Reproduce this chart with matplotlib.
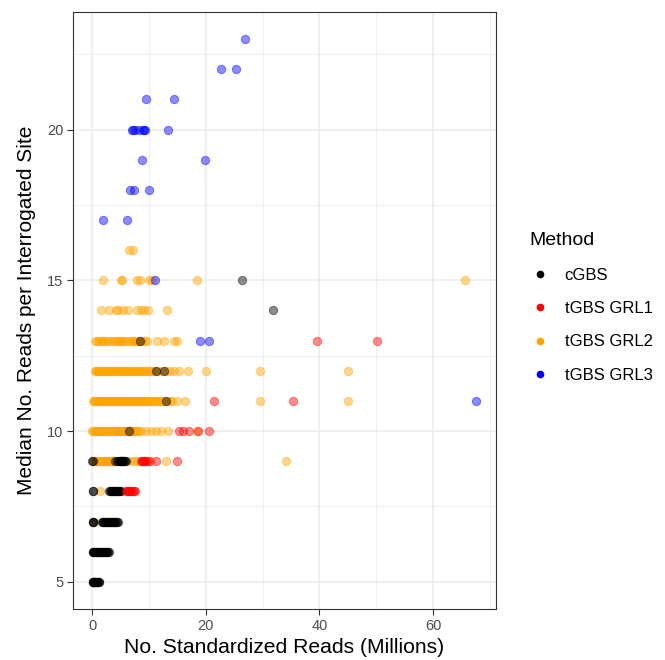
import matplotlib
matplotlib.use("Agg")
import matplotlib.pyplot as plt
from matplotlib.lines import Line2D
from matplotlib.ticker import MultipleLocator

plt.rcParams['font.family'] = ['Liberation Sans', 'DejaVu Sans']

methods = ['cGBS', 'tGBS GRL1', 'tGBS GRL2', 'tGBS GRL3']
colors = ['black', 'red', 'orange', 'blue']

# x values (millions of standardized reads) for each median reads-per-site value
cgbs = {
    5: [0.05, 0.1, 0.15, 0.2, 0.3, 0.35, 0.45, 0.5, 0.6, 0.7, 0.8, 0.9, 1.0, 1.1, 1.2],
    6: [0.05, 0.1, 0.2, 0.3, 0.4, 0.5, 0.6, 0.75, 0.85, 1.0, 1.1, 1.25, 1.4, 1.5,
        1.65, 1.8, 1.9, 2.05, 2.2, 2.35, 2.5, 2.6, 2.75, 2.9],
    7: [0.05, 0.1, 0.15, 1.7, 1.8, 1.95, 2.1, 2.2, 2.35, 2.5, 2.6, 2.8, 2.9, 3.05,
        3.2, 3.3, 3.5, 3.6, 3.75, 3.9, 4.05, 4.2, 4.35, 4.5],
    8: [0.05, 0.1, 3.0, 3.1, 3.25, 3.4, 3.5, 3.65, 3.8, 3.9, 4.05, 4.2, 4.3, 4.45,
        4.6, 4.7, 4.85, 5.0],
    9: [0.0, 0.05, 4.0, 4.3, 4.6, 4.8, 4.9, 5.0, 5.1, 5.2, 5.3, 5.4, 5.5, 5.7, 6.0],
    10: [6.4],
    11: [12.9],
    12: [11.2, 12.7],
    13: [8.4],
    14: [31.8],
    15: [26.3],
}
grl1 = {
    8: [5.9, 6.1, 6.3, 6.5, 6.7, 6.9, 7.1, 7.3, 7.6],
    9: [8.5, 8.8, 9.0, 9.1, 9.3, 9.6, 10.2, 11.2, 14.9],
    10: [15.2, 16.0, 17.0, 18.7, 20.6],
    11: [21.5, 35.3],
    13: [39.5, 50.2],
}
grl2 = {
    7: [0.3],
    8: [1.3],
    9: [0.4, 0.6, 0.8, 1.0, 1.2, 1.4, 1.6, 1.8, 2.0, 2.2, 2.4, 2.6, 2.8, 3.0, 3.2,
        3.4, 3.6, 3.8, 6.8, 7.4, 7.9, 9.8, 12.9, 34.1],
    10: [0.0, 0.2, 0.4, 0.6, 0.8, 1.0, 1.2, 1.5, 1.7, 1.9, 2.1, 2.4, 2.6, 2.8, 3.0,
         3.3, 3.5, 3.7, 3.9, 4.2, 4.4, 4.6, 4.8, 5.1, 5.3, 5.5, 5.7, 6.0, 6.2, 6.4,
         6.6, 6.9, 7.1, 7.3, 7.6, 7.9, 8.2, 8.5, 9.5, 10.4, 11.2, 12.1, 13.3, 18.5],
    11: [0.1, 0.3, 0.5, 0.7, 0.9, 1.1, 1.3, 1.6, 1.8, 2.0, 2.3, 2.5, 2.7, 2.9, 3.2,
         3.4, 3.6, 3.8, 4.1, 4.3, 4.5, 4.8, 5.0, 5.2, 5.4, 5.7, 5.9, 6.1, 6.4, 6.6,
         6.8, 7.1, 7.3, 7.5, 7.8, 8.0, 8.2, 8.5, 8.7, 9.0, 9.2, 9.5, 9.7, 10.0, 10.3,
         10.6, 10.9, 11.2, 11.5, 11.8, 12.1, 12.4, 12.8, 13.6, 14.1, 15.0, 16.4,
         29.5, 45.0],
    12: [0.4, 0.6, 0.8, 1.0, 1.2, 1.4, 1.7, 1.9, 2.1, 2.3, 2.6, 2.8, 3.0, 3.2, 3.5,
         3.7, 3.9, 4.1, 4.4, 4.6, 4.8, 5.1, 5.3, 5.5, 5.8, 6.0, 6.2, 6.5, 6.7, 6.9,
         7.2, 7.4, 7.7, 7.9, 8.2, 8.4, 8.7, 9.0, 9.3, 9.6, 9.9, 10.3, 10.6, 11.0,
         11.5, 12.2, 12.9, 13.6, 14.4, 15.3, 16.8, 20.0, 29.5, 45.0],
    13: [0.5, 0.9, 1.2, 1.5, 1.8, 2.1, 2.5, 3.0, 3.4, 3.8, 4.2, 4.5, 4.7, 5.0, 5.3,
         5.6, 6.0, 6.4, 6.8, 7.1, 7.4, 7.7, 8.0, 8.3, 8.8, 9.2, 9.7, 11.4, 12.6,
         14.4, 14.9],
    14: [1.6, 2.9, 4.2, 4.6, 5.4, 6.2, 7.9, 8.5, 9.1, 9.8, 13.1],
    15: [1.9, 5.0, 5.2, 7.9, 8.4, 10.0, 10.5, 18.4, 65.7],
    16: [6.5, 7.1],
}
grl3 = {
    11: [67.6],
    13: [19.0, 20.6],
    15: [11.1],
    17: [1.9, 6.1],
    18: [6.6, 7.4, 10.0],
    19: [8.8, 19.8],
    20: [7.0, 7.2, 7.5, 8.3, 8.9, 9.1, 9.3, 13.3],
    21: [9.5, 14.3],
    22: [22.7, 25.3],
    23: [26.9],
}

fig = plt.figure(figsize=(6.65, 6.6), dpi=100)
ax = fig.add_axes([0.1098, 0.0773, 0.636, 0.9045])

for rows, col in zip([grl2, cgbs, grl1, grl3], ['orange', 'black', 'red', 'blue']):
    xs, ys = [], []
    for med, vals in rows.items():
        xs += vals
        ys += [med] * len(vals)
    ax.scatter(xs, ys, s=36, color=col, edgecolors=col, alpha=0.45,
               linewidths=0.7, zorder=3)

ax.set_xlim(-3.4, 71.1)
ax.set_ylim(4.1, 23.9)
ax.xaxis.set_major_locator(MultipleLocator(20))
ax.xaxis.set_minor_locator(MultipleLocator(10))
ax.yaxis.set_major_locator(MultipleLocator(5))
ax.yaxis.set_minor_locator(MultipleLocator(2.5))
ax.grid(which='major', color='#EBEBEB', lw=1.1)
ax.grid(which='minor', color='#EBEBEB', lw=0.55)
ax.set_axisbelow(True)
for sp in ax.spines.values():
    sp.set_color('#333333')
    sp.set_linewidth(0.8)
ax.tick_params(which='major', length=4, width=0.8, color='#333333',
               labelcolor='#4D4D4D', labelsize=10.5, pad=3)
ax.tick_params(which='minor', length=0)

ax.set_xlabel('No. Standardized Reads (Millions)', fontsize=15.2, labelpad=4)
ax.set_ylabel('Median No. Reads per Interrogated Site', fontsize=15, labelpad=8)

handles = [Line2D([], [], ls='none', marker='o', ms=4.5, color=c) for c in colors]
leg = ax.legend(handles, methods, title='Method', loc='center left',
                bbox_to_anchor=(1.044, 0.505), frameon=False, fontsize=12,
                title_fontsize=14, labelspacing=1.1, handletextpad=0.9,
                handlelength=1.2)
leg._legend_box.align = 'left'

fig.savefig('out.png', dpi=100)
